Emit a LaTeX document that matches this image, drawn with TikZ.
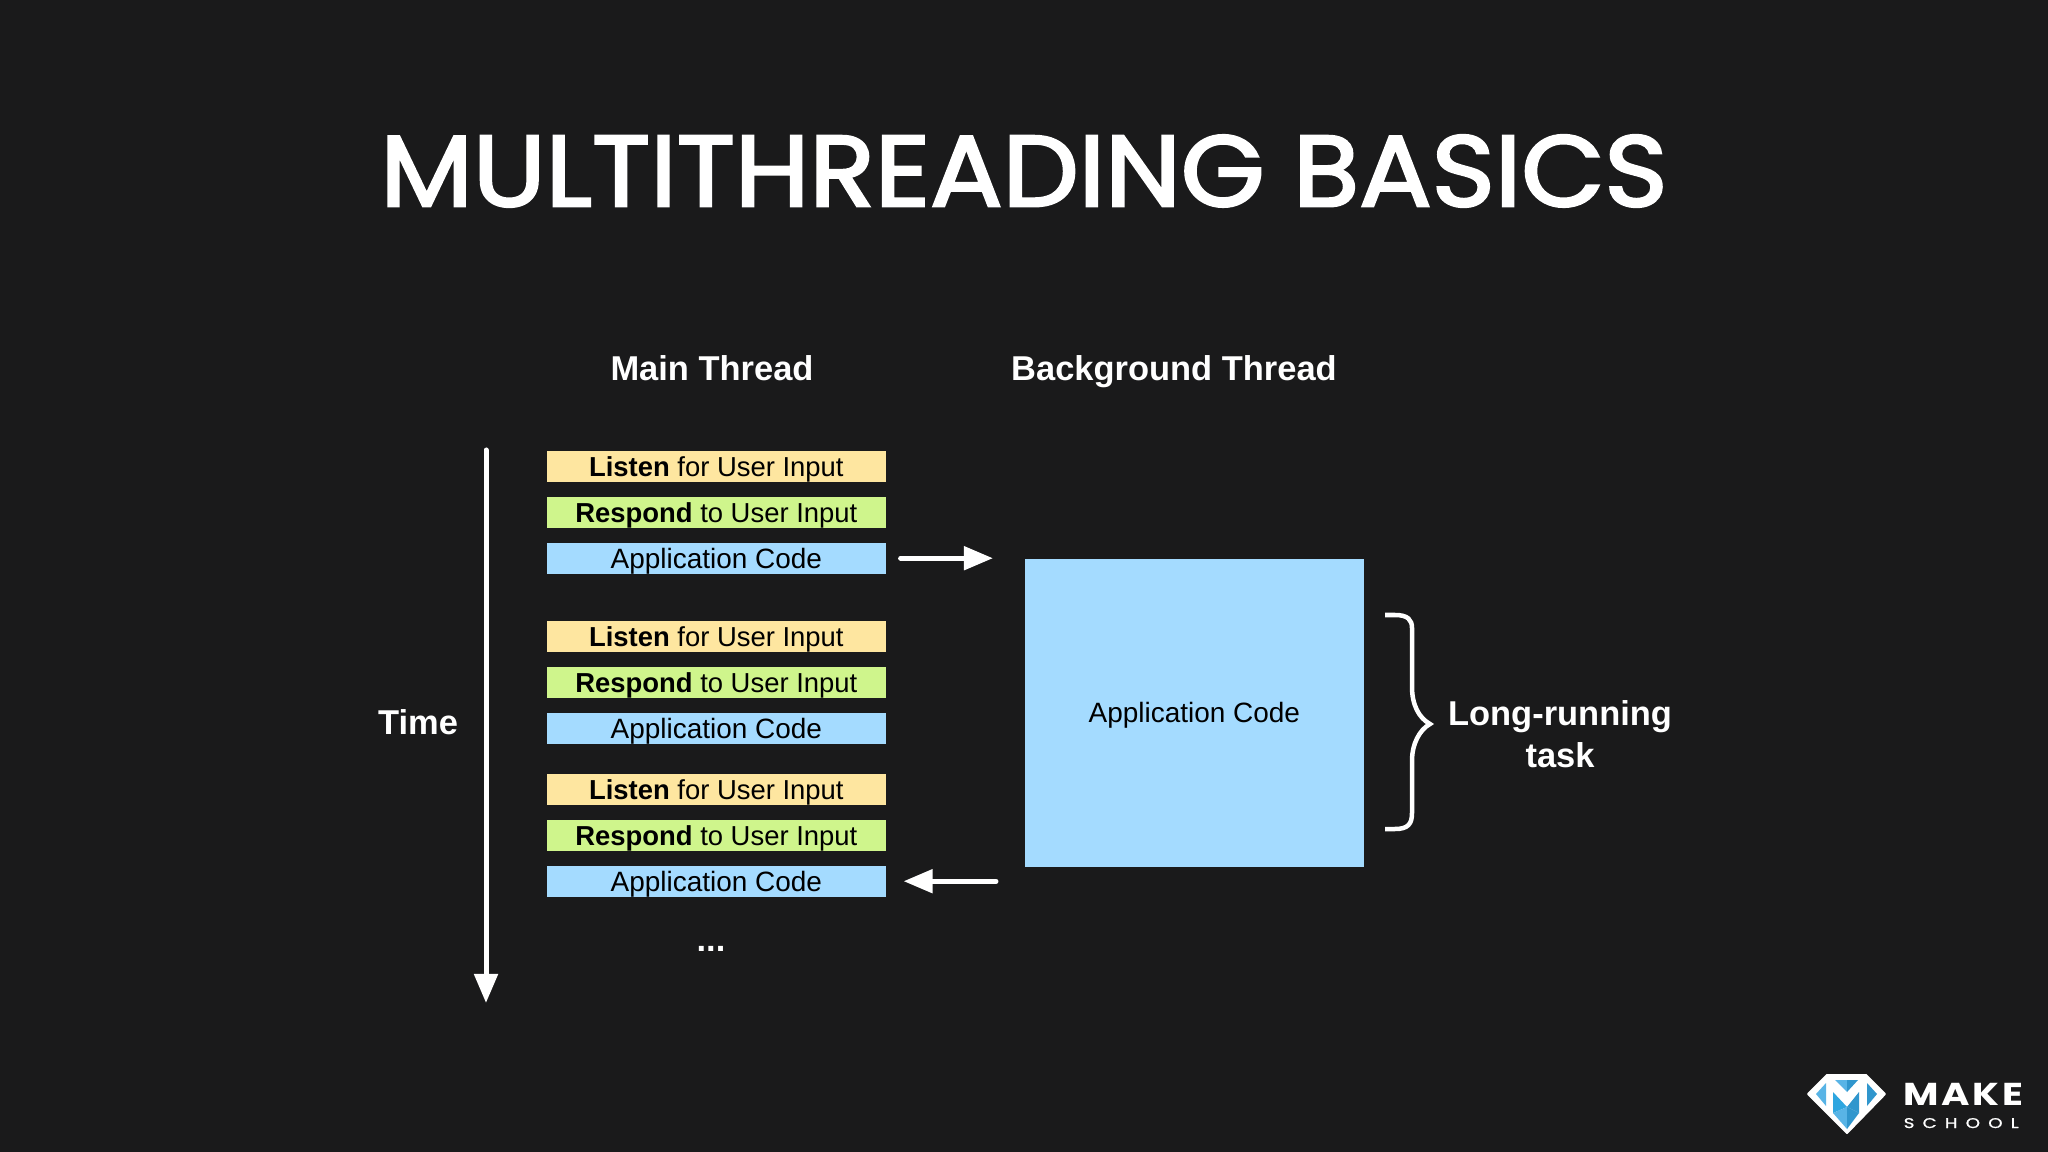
\documentclass[tikz,border=0pt]{standalone}
\usepackage{fontspec}
\setmainfont{Liberation Sans}
\newfontfamily\titlefont[FakeBold=2.6,FakeStretch=1.07]{Poppins}
\newfontfamily\logofont[LetterSpace=8,FakeStretch=1.22]{Poppins}
\newfontfamily\schoolfont[LetterSpace=58,FakeStretch=1.3,FakeBold=1]{Poppins}
\usetikzlibrary{arrows.meta}
\definecolor{slidebg}{RGB}{26,26,27}
\definecolor{listencol}{RGB}{254,230,160}
\definecolor{respondcol}{RGB}{207,245,140}
\definecolor{appcol}{RGB}{164,219,255}
\definecolor{logolight}{RGB}{88,180,230}
\definecolor{logomid}{RGB}{46,166,224}
\definecolor{logodark}{RGB}{48,150,205}
\tikzset{
 rowbox/.style={minimum width=3.39cm, minimum height=.31cm, inner sep=0pt, text height=.255cm, text depth=.055cm, text=black, font=\fontsize{7.95}{10}\selectfont},
 userbox/.style={rowbox, font=\fontsize{7.8}{10}\selectfont},
 headtext/.style={text=white, anchor=base, font=\fontsize{9.8}{12}\bfseries\selectfont, inner sep=0pt},
 whitearrow/.style={white, line width=.05cm, line cap=round, -{Triangle[length=.29cm, width=.23cm]}},
}
\begin{document}
\begin{tikzpicture}[x=.01cm, y=-.01cm]
\useasboundingbox[fill=slidebg] (0,0) rectangle (2048,1152);

\node[text=white, inner sep=0pt, font=\titlefont\fontsize{28.6}{36}\selectfont] (title) at (1024,171) {MULTITHREADING BASICS};
\node[headtext] (mainhead) at (712,381) {Main Thread};
\node[headtext] (backhead) at (1174,381) {Background Thread};
\node[headtext] (timelabel) at (418,735) {Time};

% three groups of rows
\foreach \g/\y in {1/450, 2/620, 3/773} {
 \node[userbox, fill=listencol, anchor=north west] (listen\g) at (546,\y) {\textbf{Listen} for User Input};
 \node[userbox, fill=respondcol, anchor=north west] (respond\g) at (546,\y+46) {\textbf{Respond} to User Input};
 \node[rowbox, fill=appcol, anchor=north west] (app\g) at (546,\y+92) {Application Code};
}
\node[headtext] (dots) at (711,951) {...};

\node[rowbox, fill=appcol, minimum height=3.08cm, text height=.24cm, text depth=.04cm, anchor=north west] (bigbox) at (1024,558) {Application Code};

\coordinate (timetop) at (486,450);
\coordinate (timebot) at (486,1003);
\draw[whitearrow] (timetop) -- (timebot);
\draw[whitearrow, shorten <=.14cm, shorten >=.31cm] (app1.east) -- (app1.east -| bigbox.west);
\draw[whitearrow, shorten <=.28cm, shorten >=.17cm] (app3.east -| bigbox.west) -- (app3.east);

% brace
\coordinate (bracetip) at (1430,724);
\draw[white, line width=.045cm] (1385,615) -- (1395,615) .. controls (1408,615) and (1412,620) .. (1412,628) -- (1412,687) .. controls (1412,705) and (1419,718) .. (bracetip) .. controls (1419,730) and (1412,745) .. (1412,760) -- (1412,813) .. controls (1412,824) and (1408,829) .. (1395,829) -- (1385,829);
\node[headtext, anchor=center, align=center] (longtask) at (1560,734) {Long-running\\task};

% logo
\filldraw[white, line join=round, line width=.02cm] (1808,1094) -- (1827,1075) -- (1866,1075) -- (1885,1094) -- (1847,1133) -- cycle;
\fill[logolight] (1816,1094) -- (1826,1083) -- (1826,1106) -- cycle;
\fill[logodark] (1877,1094) -- (1867,1083) -- (1867,1106) -- cycle;
\fill[logolight] (1835,1080) -- (1847,1080) -- (1847,1092) -- cycle;
\fill[logodark] (1847,1080) -- (1858,1080) -- (1847,1092) -- cycle;
\fill[logomid] (1833,1092) -- (1847,1107) -- (1833,1113) -- cycle;
\fill[logolight] (1833,1113) -- (1847,1107) -- (1847,1129) -- cycle;
\fill[logodark] (1847,1107) -- (1859,1113) -- (1847,1129) -- cycle;
\fill[logodark] (1859,1092) -- (1847,1107) -- (1859,1113) -- cycle;
\node[text=white, inner sep=0pt, anchor=base west, font=\logofont\bfseries\fontsize{9}{10}\selectfont] (logomake) at (1903,1105) {MAKE};
\node[text=white, inner sep=0pt, anchor=base west, font=\schoolfont\fontsize{4}{5}\selectfont] (logoschool) at (1903,1128) {SCHOOL};
\end{tikzpicture}
\end{document}
